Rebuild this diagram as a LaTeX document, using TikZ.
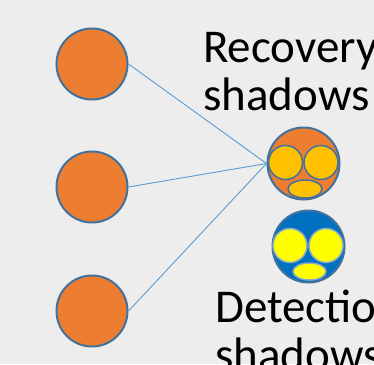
\documentclass[tikz,border=0pt]{standalone}
\usepackage{fontspec}
\setmainfont{Carlito}
\definecolor{bg}{RGB}{237,237,237}
\definecolor{orng}{RGB}{237,125,49}
\definecolor{edgeblue}{RGB}{65,113,156}
\definecolor{linkblue}{RGB}{91,155,213}
\definecolor{gold}{RGB}{255,192,0}
\definecolor{deepblue}{RGB}{0,112,192}
\definecolor{yel}{RGB}{255,255,0}
\tikzset{
  neuron/.style={circle,draw=edgeblue,line width=2pt,fill=orng,minimum size=71pt,inner sep=0pt},
  shadowbig/.style={circle,draw=edgeblue,line width=2pt,minimum size=72pt,inner sep=0pt},
  eye/.style={circle,draw=edgeblue,line width=1.5pt,minimum size=34pt,inner sep=0pt},
  mouth/.style={ellipse,draw=edgeblue,line width=1.5pt,minimum width=34pt,minimum height=18pt,inner sep=0pt},
  link/.style={draw=linkblue,line width=0.9pt},
  lbl/.style={anchor=base west,inner sep=0pt,font=\fontsize{47}{56}\selectfont}
}
\usetikzlibrary{shapes.geometric}
\begin{document}
\begin{tikzpicture}[x=1pt,y=-1pt]
\fill[bg] (0,0) rectangle (374,364);
\useasboundingbox (0,0) rectangle (374,364);
\begin{scope}
\clip (0,0) rectangle (374,364);
\node[neuron] (n1) at (92,64) {};
\node[neuron] (n2) at (92,187) {};
\node[neuron] (n3) at (92,311) {};
\node[shadowbig,fill=orng] (rec) at (303.5,163.5) {};
\node[eye,fill=gold] (rl) at (285.5,162.5) {};
\node[eye,fill=gold] (rr) at (321,162.5) {};
\node[mouth,fill=gold] (rm) at (305,189) {};
\node[shadowbig,fill=deepblue] (det) at (308.5,246.5) {};
\node[eye,fill=yel,draw=edgeblue!60] (dl) at (290,245.5) {};
\node[eye,fill=yel,draw=edgeblue!60] (dr) at (326,245.5) {};
\node[mouth,fill=yel,draw=edgeblue!60,minimum width=33pt,minimum height=17pt] (dm) at (309.5,271.5) {};
\draw[link] (n1.east) -- (rec.west);
\draw[link] (n2.east) -- (rec.west);
\draw[link] (n3.east) -- (rec.west);
\node[lbl] (t1) at (203,62) {Recovery};
\node[lbl] (t2) at (203,110) {shadows};
\node[lbl] (t3) at (215,322) {Detection};
\node[lbl] (t4) at (215,370) {shadows};
\end{scope}
\end{tikzpicture}
\end{document}
